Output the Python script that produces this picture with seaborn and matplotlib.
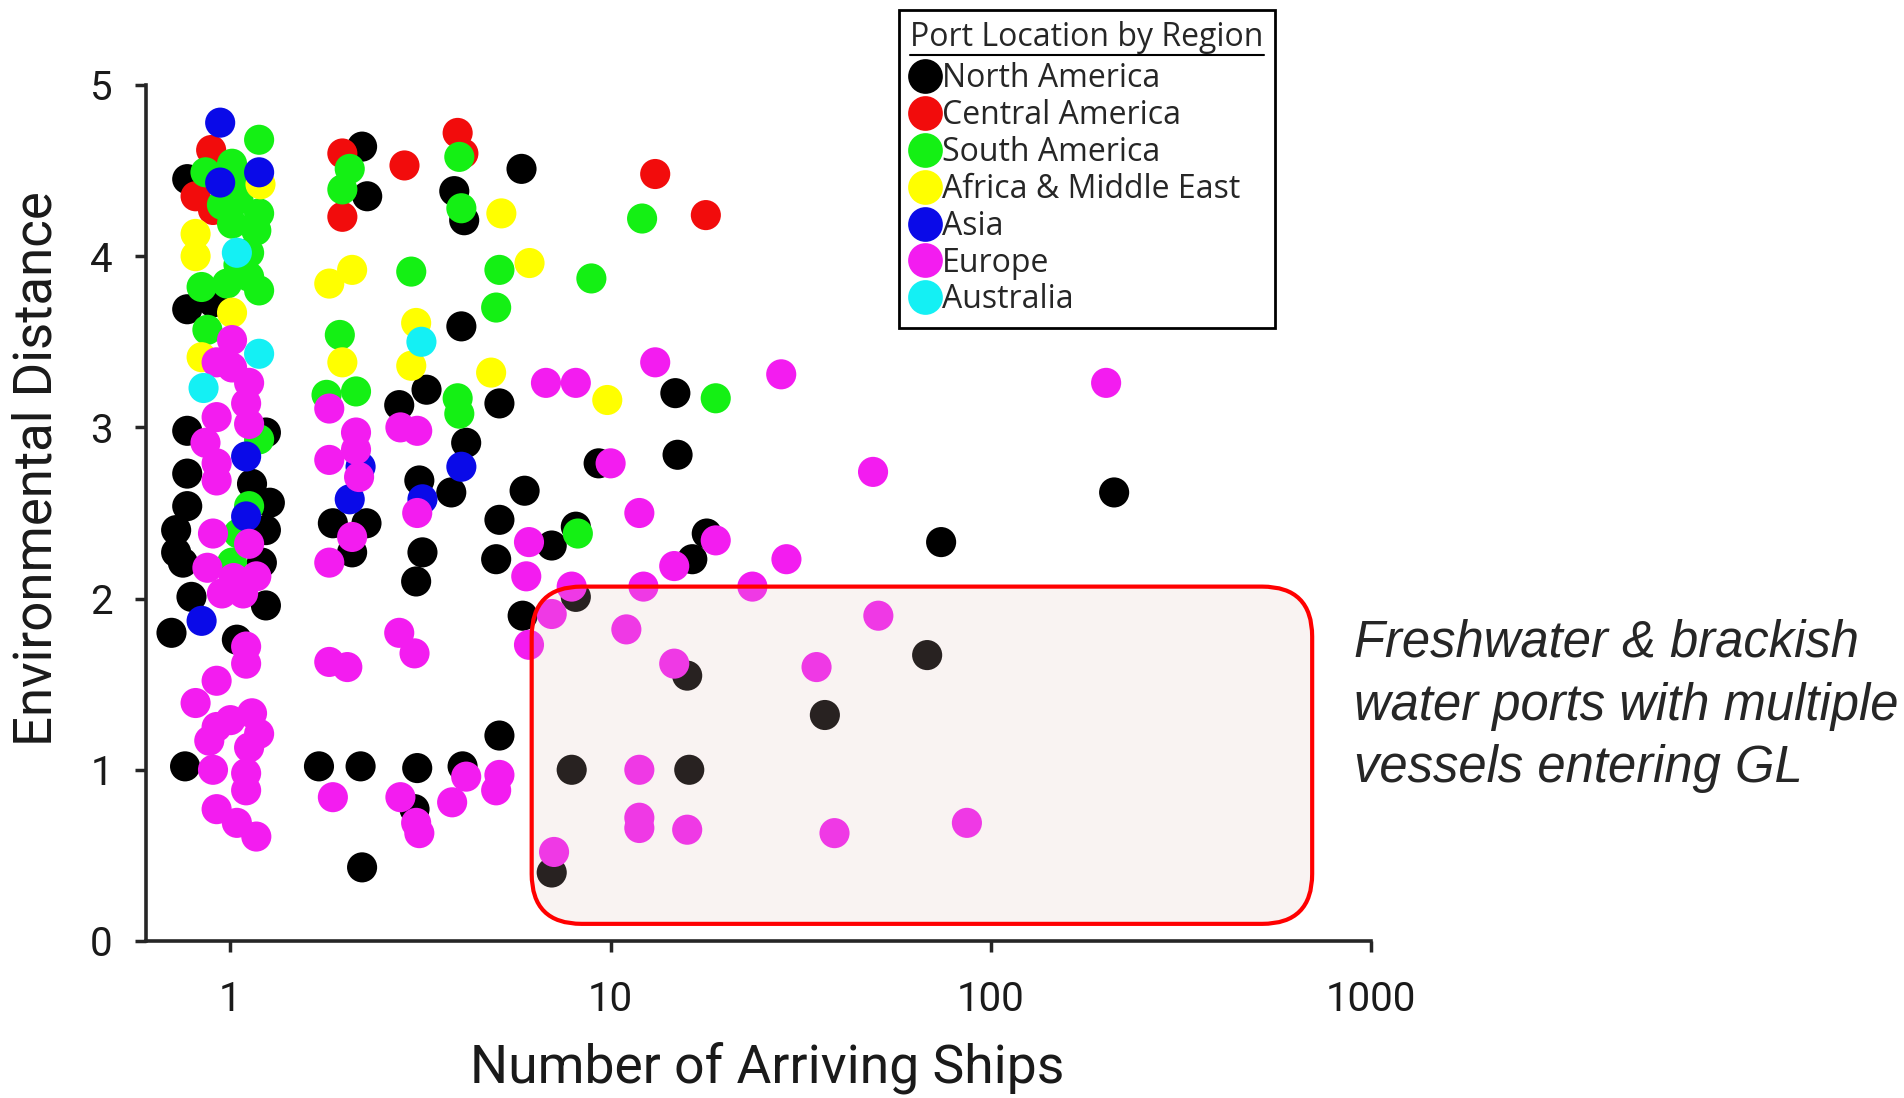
import pandas as pd
import seaborn as sns
import matplotlib.pyplot as plt
from matplotlib.lines import Line2D
from matplotlib.patches import FancyBboxPatch
from matplotlib.ticker import NullLocator
from matplotlib.transforms import IdentityTransform

# regions and their colours
regions = ["North America", "Central America", "South America",
           "Africa & Middle East", "Asia", "Europe", "Australia"]
colors = ["#000000", "#f20c0c", "#14f014", "#ffff00", "#0a0ae8", "#f31cf0", "#14f0f4"]

# values: number of arriving ships / environmental distance
na_x = [0.77, 0.90, 0.77, 0.77, 1.24, 0.77, 1.14, 0.77, 1.27, 0.72, 0.72, 0.75, 1.24, 1.21, 0.79, 1.24, 0.70, 1.04, 0.76,
        2.22, 2.29, 5.83, 3.88, 4.12, 4.05, 3.28, 2.78, 5.1, 4.17, 3.14, 3.81, 5.94, 1.86, 2.28, 2.09, 3.2, 3.08, 5.1, 5.0,
        7.0, 5.87, 1.71, 2.2, 3.1, 4.08, 5.1, 3.05, 2.22,
        8.1, 9.3, 14.8, 15.0, 17.9, 16.4, 8.1, 211, 74, 68, 36.6, 15.9, 16.1, 7.9, 7.0]
na_y = [4.45, 3.73, 3.69, 2.98, 2.97, 2.73, 2.67, 2.54, 2.56, 2.40, 2.27, 2.21, 2.40, 2.21, 2.01, 1.96, 1.80, 1.76, 1.02,
        4.64, 4.35, 4.51, 4.38, 4.21, 3.59, 3.22, 3.13, 3.14, 2.91, 2.69, 2.62, 2.63, 2.44, 2.44, 2.27, 2.27, 2.10, 2.46, 2.23,
        2.31, 1.90, 1.02, 1.02, 1.01, 1.02, 1.20, 0.77, 0.43,
        2.42, 2.79, 3.20, 2.84, 2.38, 2.23, 2.01, 2.62, 2.33, 1.67, 1.32, 1.55, 1.00, 1.00, 0.40]

ca_x = [0.89, 0.81, 0.90, 1.97, 2.87, 1.97, 3.96, 4.1, 13.1, 17.8]
ca_y = [4.62, 4.35, 4.27, 4.60, 4.53, 4.23, 4.72, 4.60, 4.48, 4.24]

sa_x = [1.19, 0.86, 1.01, 1.10, 1.05, 0.95, 1.19, 1.01, 1.17, 1.12, 1.05, 1.12, 1.19, 0.84, 0.98, 0.87, 1.19, 1.12, 1.05, 1.01,
        2.06, 1.97, 2.99, 1.94, 1.79, 2.14, 4.0, 4.05, 5.1, 5.0, 3.96, 4.0, 8.9, 12.1, 18.9, 8.2]
sa_y = [4.68, 4.49, 4.54, 4.45, 4.33, 4.30, 4.25, 4.19, 4.15, 4.02, 3.95, 3.88, 3.80, 3.82, 3.84, 3.57, 2.93, 2.54, 2.38, 2.21,
        4.51, 4.39, 3.91, 3.54, 3.19, 3.21, 4.58, 4.28, 3.92, 3.70, 3.17, 3.08, 3.87, 4.22, 3.17, 2.38]

af_x = [0.81, 0.81, 1.01, 0.84, 1.20, 5.16, 1.82, 2.09, 6.12, 3.08, 1.97, 2.99, 4.85, 9.8]
af_y = [4.13, 4.00, 3.67, 3.41, 4.42, 4.25, 3.84, 3.92, 3.96, 3.61, 3.38, 3.36, 3.32, 3.16]

as_x = [0.94, 1.19, 0.94, 1.10, 1.10, 0.84, 2.20, 4.05, 2.06, 3.20]
as_y = [4.78, 4.49, 4.43, 2.83, 2.48, 1.87, 2.77, 2.77, 2.58, 2.58]

eu_x = [1.01, 0.92, 1.01, 1.12, 1.10, 0.92, 1.12, 0.86, 0.92, 0.92, 0.90, 1.12, 0.87, 1.17, 0.95, 1.08, 1.10, 1.10, 0.92, 0.81,
        0.92, 0.88, 1.14, 1.19, 1.12, 1.00, 0.90, 1.10, 1.10, 0.92, 1.04, 1.17, 1.02,
        1.82, 2.80, 3.10, 2.14, 1.82, 2.14, 2.18, 3.10, 2.09, 1.82, 1.82, 2.03, 2.78, 3.05, 1.86, 2.80, 3.14, 3.08, 3.83, 4.17,
        5.0, 5.1,
        6.1, 6.0, 7.0, 6.1, 6.76, 8.1, 13.1, 28.1, 201, 10.0, 49, 11.9, 18.9, 14.7, 29, 23.6, 12.2, 7.9, 11.0, 14.7, 34.8, 50.6,
        11.9, 11.9, 11.9, 15.9, 38.8, 86.5, 7.1]
eu_y = [3.51, 3.38, 3.35, 3.26, 3.14, 3.06, 3.02, 2.91, 2.79, 2.69, 2.38, 2.32, 2.18, 2.13, 2.03, 2.03, 1.72, 1.62, 1.52, 1.39,
        1.25, 1.17, 1.33, 1.21, 1.13, 1.29, 1.00, 0.98, 0.88, 0.77, 0.69, 0.61, 2.12,
        3.11, 3.00, 2.98, 2.97, 2.81, 2.87, 2.71, 2.50, 2.36, 2.21, 1.63, 1.60, 1.80, 1.68, 0.84, 0.84, 0.63, 0.69, 0.81, 0.96,
        0.88, 0.97,
        2.33, 2.13, 1.91, 1.73, 3.26, 3.26, 3.38, 3.31, 3.26, 2.79, 2.74, 2.50, 2.34, 2.19, 2.23, 2.07, 2.07, 2.07, 1.82, 1.62,
        1.60, 1.90,
        1.00, 0.72, 0.66, 0.65, 0.63, 0.69, 0.52]

au_x = [1.04, 1.19, 0.85, 3.18]
au_y = [4.02, 3.43, 3.23, 3.50]

x_ticks = [1, 10, 100, 1000]
x_ticklabels = ["1", "10", "100", "1000"]
y_ticks = [0, 1, 2, 3, 4, 5]

# highlighted area (data units)
box_x = (6.2, 700)
box_y = (0.1, 2.07)
note = "Freshwater & brackish\nwater ports with multiple\nvessels entering GL"

frames = []
for name, xs, ys in zip(regions,
                        [na_x, ca_x, sa_x, af_x, as_x, eu_x, au_x],
                        [na_y, ca_y, sa_y, af_y, as_y, eu_y, au_y]):
    frames.append(pd.DataFrame({"ships": xs, "dist": ys, "region": name}))
df = pd.concat(frames, ignore_index=True)

sns.set_style("ticks")
plt.rcParams["font.family"] = ["Roboto", "DejaVu Sans"]

fig = plt.figure(figsize=(19.04, 10.98), dpi=100)
ax = fig.add_axes([0.0767, 0.143, 0.6434, 0.7796])

sns.scatterplot(data=df, x="ships", y="dist", hue="region", hue_order=regions,
                palette=dict(zip(regions, colors)), s=470, linewidth=0,
                legend=False, ax=ax)

ax.set_xscale("log")
ax.set_xlim(0.6, 1000)
ax.set_ylim(0, 5)
ax.set_xticks(x_ticks)
ax.set_xticklabels(x_ticklabels)
ax.xaxis.set_minor_locator(NullLocator())
ax.set_yticks(y_ticks)
ax.tick_params(axis="both", width=2.5, length=8, labelsize=29, labelcolor="#1a1a1a")
ax.tick_params(axis="x", pad=20)
ax.tick_params(axis="y", pad=16)
for side in ["top", "right"]:
    ax.spines[side].set_visible(False)
for side in ["left", "bottom"]:
    ax.spines[side].set_linewidth(2.6)

ax.set_xlabel("Number of Arriving Ships", fontsize=38.5, color="#1a1a1a")
ax.set_ylabel("Environmental Distance", fontsize=38, color="#1a1a1a")
ax.xaxis.set_label_coords(0.507, -0.118)
ax.yaxis.set_label_coords(-0.068, 0.552)

# legend
handles = [Line2D([], [], marker="o", ls="", markersize=25, color=c, markeredgewidth=0)
           for c in colors]
leg = ax.legend(handles, regions, title="Port Location by Region",
                loc="upper left", bbox_to_anchor=(0.4722, 0.991),
                bbox_transform=fig.transFigure, borderaxespad=0,
                fancybox=False, framealpha=1, edgecolor="black",
                prop={"family": "Open Sans", "size": 23},
                title_fontproperties={"family": "Open Sans", "size": 23},
                alignment="left", handlelength=0.95, handletextpad=0.05,
                labelspacing=0.12, borderpad=0.35)
leg.get_frame().set_linewidth(2)
leg._legend_box.sep = 6

# rounded highlight box, drawn in pixels so the corners stay round
(x0, y0), (x1, y1) = ax.transData.transform([(box_x[0], box_y[0]), (box_x[1], box_y[1])])
box = FancyBboxPatch((x0, y0), x1 - x0, y1 - y0,
                     boxstyle="round,pad=0,rounding_size=50",
                     facecolor=(0.88, 0.74, 0.72, 0.18), edgecolor="#ff0000",
                     linewidth=3, transform=IdentityTransform(), zorder=5)
fig.add_artist(box)

fig.text(0.711, 0.357, note, ha="left", va="center", fontsize=36.5,
         style="italic", family=["Liberation Sans", "DejaVu Sans"], linespacing=1.36)

# underline the legend title
fig.canvas.draw()
tb = leg.get_title().get_window_extent(fig.canvas.get_renderer())
fig.add_artist(Line2D([tb.x0, tb.x1], [tb.y0 - 1, tb.y0 - 1], color="black",
                      linewidth=1.5, transform=IdentityTransform()))

fig.savefig("out.png", dpi=100)
